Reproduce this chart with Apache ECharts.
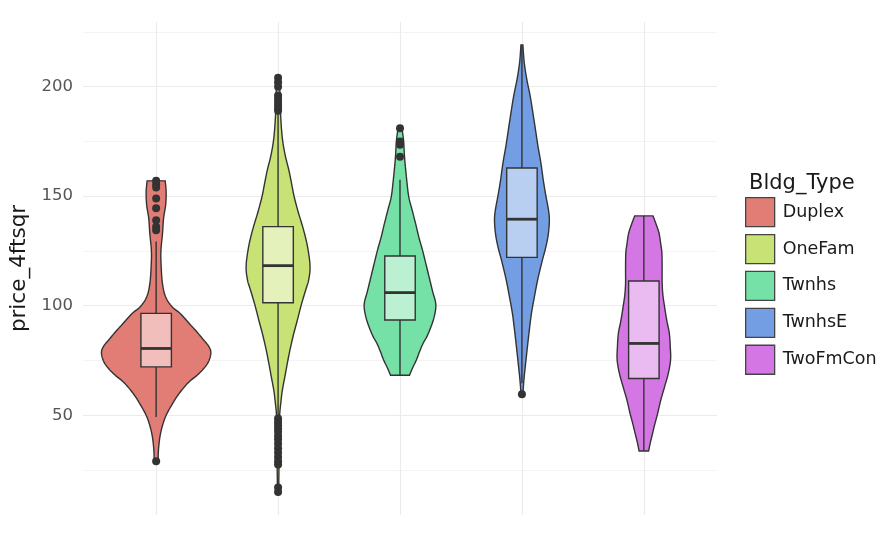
<!DOCTYPE html>
<html>
<head>
<meta charset="utf-8">
<script src="https://cdn.jsdelivr.net/npm/echarts@6/dist/echarts.min.js"></script>
<style>
  html, body { margin: 0; padding: 0; background: #fff; }
  #main { width: 885px; height: 546px; }
</style>
</head>
<body>
<div id="main"></div>
<script>
// building types
const types = ['Duplex', 'OneFam', 'Twnhs', 'TwnhsE', 'TwoFmCon'];
const colors = ['#E27D76', '#C9E276', '#76E1A7', '#739EE3', '#D476E3'];

// violin outlines: price value and half width (in category units)
const duplexY = [157, 152, 146, 140, 133, 125, 118, 110, 104, 99.5, 96.5, 92, 88, 85, 82, 79.5, 77, 74, 71, 68, 65, 60, 55, 49, 42, 35, 29];
const duplexW = [0.074, 0.082, 0.078, 0.061, 0.052, 0.039, 0.041, 0.052, 0.078, 0.131, 0.197, 0.27, 0.335, 0.38, 0.425, 0.447, 0.445, 0.425, 0.385, 0.33, 0.265, 0.189, 0.131, 0.074, 0.037, 0.02, 0.016];
const oneFamY = [204, 195, 188, 180, 174, 168, 162, 156, 150, 143, 136, 130, 125.5, 121, 118, 115, 111, 108.7, 104, 99.5, 93, 87.4, 81, 74.4, 68, 61.4, 56, 51, 45, 35, 25, 15];
const oneFamW = [0.012, 0.016, 0.02, 0.029, 0.041, 0.061, 0.088, 0.11, 0.131, 0.164, 0.202, 0.23, 0.246, 0.258, 0.262, 0.26, 0.248, 0.235, 0.209, 0.186, 0.156, 0.129, 0.102, 0.078, 0.057, 0.035, 0.023, 0.014, 0.01, 0.008, 0.007, 0.005];
const twnhsY = [181, 175, 168, 159, 150, 144, 137.7, 131, 125.5, 119, 113.3, 106, 103, 100.3, 97.5, 94, 90.4, 86, 82.8, 79, 75.2, 71.5, 68.3];
const twnhsW = [0.016, 0.03, 0.037, 0.052, 0.071, 0.098, 0.127, 0.156, 0.184, 0.213, 0.238, 0.27, 0.286, 0.294, 0.29, 0.276, 0.254, 0.221, 0.189, 0.16, 0.134, 0.102, 0.078];
const twnhsEY = [219, 211, 203, 195.6, 188, 180.4, 173, 165, 157, 150, 144, 139.2, 133, 127, 120, 111.8, 104, 96.5, 89, 81.2, 73, 66, 60];
const twnhsEW = [0.008, 0.019, 0.041, 0.068, 0.09, 0.111, 0.131, 0.156, 0.176, 0.197, 0.217, 0.225, 0.217, 0.197, 0.164, 0.129, 0.102, 0.078, 0.061, 0.045, 0.029, 0.016, 0.008];
const twoFmY = [141, 137, 133, 128, 124, 117, 110.3, 105, 99.5, 93, 87.4, 81, 75.2, 69, 63, 57, 50.8, 46, 41.6, 37.5, 33.7];
const twoFmW = [0.075, 0.102, 0.125, 0.139, 0.148, 0.15, 0.15, 0.156, 0.17, 0.189, 0.209, 0.217, 0.219, 0.2, 0.17, 0.139, 0.113, 0.09, 0.071, 0.053, 0.039];

// box stats: [lower whisker, q1, median, q3, upper whisker]
const duplexBox = [49.2, 72.1, 80.5, 96.5, 129.3];
const oneFamBox = [49.5, 101.4, 118.3, 136.1, 188];
const twnhsBox = [68.3, 93.5, 106, 122.7, 157.5];
const twnhsEBox = [64.6, 122.1, 139.5, 162.9, 219];
const twoFmBox = [33.7, 66.8, 82.8, 111.3, 141];

// outliers
const duplexOut = [157, 155.5, 154, 149, 144.5, 139, 136, 134.5, 29];
const oneFamOut = [204, 202, 200, 196, 194.5, 193, 191.5, 190, 189, 48.5, 47, 45.5, 44, 42.5, 40.5, 39, 37, 35, 33, 31, 29, 27.5, 17, 15];
const twnhsOut = [181, 175, 173.5, 168];
const twnhsEOut = [59.6];
const twoFmOut = [];

const yTicks = [50, 100, 150, 200];
const yMinor = [25, 75, 125, 175, 225];

const profY = [duplexY, oneFamY, twnhsY, twnhsEY, twoFmY];
const profW = [duplexW, oneFamW, twnhsW, twnhsEW, twoFmW];
const boxes = [duplexBox, oneFamBox, twnhsBox, twnhsEBox, twoFmBox];
const outs = [duplexOut, oneFamOut, twnhsOut, twnhsEOut, twoFmOut];

// smooth a list of pixel points (catmull-rom), only for drawing
function smoothPts(p) {
  const res = [];
  for (let i = 0; i < p.length - 1; i++) {
    const p0 = p[i - 1] || p[i], p1 = p[i], p2 = p[i + 1], p3 = p[i + 2] || p[i + 1];
    for (let s = 0; s < 8; s++) {
      const t = s / 8, t2 = t * t, t3 = t2 * t;
      res.push([
        0.5 * (2 * p1[0] + (-p0[0] + p2[0]) * t + (2 * p0[0] - 5 * p1[0] + 4 * p2[0] - p3[0]) * t2 + (-p0[0] + 3 * p1[0] - 3 * p2[0] + p3[0]) * t3),
        0.5 * (2 * p1[1] + (-p0[1] + p2[1]) * t + (2 * p0[1] - 5 * p1[1] + 4 * p2[1] - p3[1]) * t2 + (-p0[1] + 3 * p1[1] - 3 * p2[1] + p3[1]) * t3)
      ]);
    }
  }
  res.push(p[p.length - 1]);
  return res;
}

function violinRender(idx) {
  return function (params, api) {
    const ys = profY[idx], ws = profW[idx];
    const left = [], right = [];
    for (let k = 0; k < ys.length; k++) {
      left.push(api.coord([idx - ws[k], ys[k]]));
      right.push(api.coord([idx + ws[k], ys[k]]));
    }
    const pts = smoothPts(left).concat(smoothPts(right).reverse());
    return {
      type: 'polygon',
      shape: { points: pts },
      style: { fill: colors[idx], stroke: '#333333', lineWidth: 1.4 }
    };
  };
}

function boxRender(params, api) {
  const i = api.value(0);
  const lo = api.coord([i, api.value(1)]);
  const q1 = api.coord([i - 0.125, api.value(2)]);
  const md = api.coord([i - 0.125, api.value(3)]);
  const q3 = api.coord([i + 0.125, api.value(4)]);
  const hi = api.coord([i, api.value(5)]);
  const line = { stroke: '#333333', lineWidth: 1.4 };
  return {
    type: 'group',
    children: [
      { type: 'line', shape: { x1: hi[0], y1: hi[1], x2: hi[0], y2: q3[1] }, style: line },
      { type: 'line', shape: { x1: lo[0], y1: lo[1], x2: lo[0], y2: q1[1] }, style: line },
      { type: 'rect', shape: { x: q1[0], y: q3[1], width: q3[0] - q1[0], height: q1[1] - q3[1] },
        style: { fill: 'rgba(255,255,255,0.5)', stroke: '#333333', lineWidth: 1.4 } },
      { type: 'line', shape: { x1: q1[0], y1: md[1], x2: q3[0], y2: md[1] }, style: { stroke: '#333333', lineWidth: 2.8 } }
    ]
  };
}

const boxData = boxes.map((b, i) => [i].concat(b));
const outData = [];
outs.forEach((arr, i) => arr.forEach(v => outData.push([i, v])));

const gridLines = [];
yTicks.forEach(v => gridLines.push({ yAxis: v, lineStyle: { width: 1.1 } }));
yMinor.forEach(v => gridLines.push({ yAxis: v, lineStyle: { width: 0.6 } }));
types.forEach((t, i) => gridLines.push({ xAxis: i, lineStyle: { width: 1.1 } }));

const series = [{
  type: 'line', name: 'grid', data: [], silent: true, z: 0,
  markLine: {
    silent: true, z: 0, symbol: ['none', 'none'], label: { show: false },
    lineStyle: { color: '#EBEBEB', type: 'solid' }, animation: false,
    data: gridLines
  }
}];
types.forEach((t, i) => {
  series.push({
    type: 'custom', name: t, z: 2,
    itemStyle: { color: colors[i] },
    data: [[i, profY[i][0]]],
    renderItem: violinRender(i)
  });
});
series.push({ type: 'custom', name: 'box', z: 3, data: boxData, renderItem: boxRender });
series.push({ type: 'scatter', name: 'outliers', z: 4, data: outData, symbolSize: 8, itemStyle: { color: '#333333', opacity: 1 } });

const chart = echarts.init(document.getElementById('main'));
chart.setOption({
  animation: false,
  textStyle: { fontFamily: 'DejaVu Sans' },
  grid: { left: 83, right: 168, top: 22, bottom: 31 },
  title: {
    text: 'Bldg_Type', left: 744, top: 168,
    textStyle: { fontSize: 21, fontWeight: 'normal', color: '#1a1a1a', fontFamily: 'DejaVu Sans' }
  },
  legend: {
    data: types, orient: 'vertical', left: 745, top: 197, padding: 0,
    itemWidth: 29, itemHeight: 29, itemGap: 6.6, icon: 'rect',
    itemStyle: { borderColor: '#444444', borderWidth: 1.3 },
    textStyle: { fontSize: 17.5, color: '#1a1a1a', padding: [0, 0, 0, 3], fontFamily: 'DejaVu Sans' },
    selectedMode: false
  },
  xAxis: {
    type: 'value', min: -0.6, max: 4.6, show: false
  },
  yAxis: {
    type: 'value', min: 4.5, max: 229.5,
    name: 'price_4ftsqr', nameLocation: 'middle', nameRotate: 90, nameGap: 43,
    nameTextStyle: { fontSize: 21.5, color: '#1a1a1a', fontFamily: 'DejaVu Sans' },
    axisLine: { show: false }, axisTick: { show: false }, splitLine: { show: false },
    axisLabel: { customValues: yTicks, fontSize: 16.5, color: '#555555', margin: 10, fontFamily: 'DejaVu Sans' }
  },
  series: series
});
</script>
</body>
</html>
